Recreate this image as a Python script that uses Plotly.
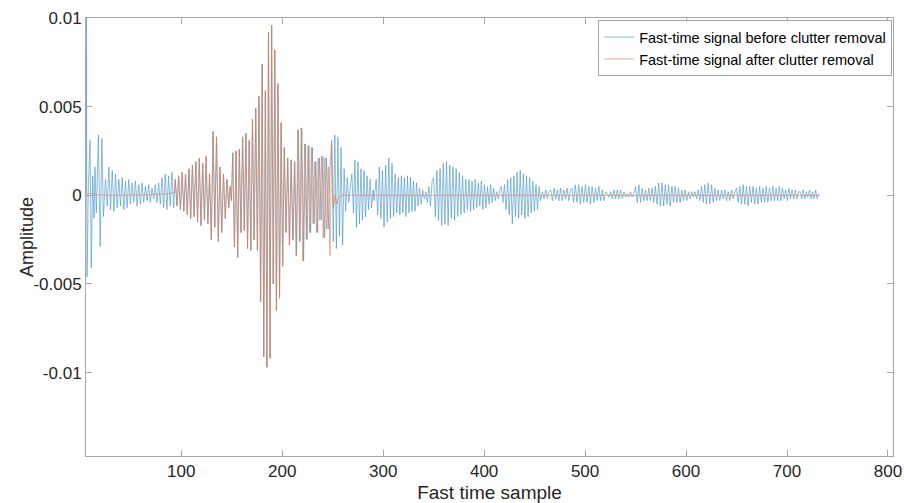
import numpy as np
import plotly.graph_objects as go

# ---------------- data ----------------
# Each oscillating stretch: (first sample, last sample) and its successive extrema
blue_start_x = [5.6, 5.9, 6.6, 8.0, 9.6, 10.8, 12.3, 13.5, 14.5, 15.8, 17.9, 19.6, 21.3, 22.8, 24.5]
blue_start_y = [0.0, 0.0102, -0.0046, 0.0005, 0.0031, -0.0041, 0.0011, -0.0013, 0.0016, -0.0010,
                0.0034, -0.0029, 0.0032, -0.0012, 0.0006]

blue_b2 = [0.0009, -0.0006, 0.0016, -0.0008, 0.0014, -0.0009, 0.0012, -0.0007, 0.0009, -0.0006,
           0.0010, -0.0008, 0.0008, -0.0007, 0.0009, -0.0005, 0.0007, -0.0004, 0.0008, -0.0006,
           0.0006, -0.0005, 0.0007, -0.0004, 0.0005, -0.0003, 0.0006, -0.0004, 0.0004, -0.0002,
           0.0006, -0.0004, 0.0007, -0.0005, 0.0010, -0.0007, 0.0012, -0.0008, 0.0011, -0.0006,
           0.0013, -0.0007]
orange_o1 = [0.0009, -0.0006, 0.0011, -0.0008, 0.0013, -0.0009, 0.0012, -0.0011, 0.0015, -0.0013,
             0.0017, -0.0012, 0.0019, -0.0015, 0.0021, -0.0017, 0.0018, -0.0014, 0.0022, -0.0016]
orange_o2 = [0.0012, -0.0025, 0.0036, -0.0018, 0.0033, -0.0026, 0.0016, -0.0021, 0.0012, -0.0013, 0.0009]
orange_o3 = [-0.0007, 0.0005, -0.0003]
orange_o4 = [0.0024, -0.0029, 0.0025, -0.0035, 0.0026, -0.0021, 0.0033, -0.0020, 0.0035, -0.0030,
             0.0031, -0.0031, 0.0043, -0.0025, 0.0049, -0.0031]
orange_o5 = [0.0056, -0.0060, 0.0074, -0.0091, 0.0059, -0.0097, 0.0092, -0.0092, 0.0096, -0.0050,
             0.0082, -0.0065, 0.0063, -0.0058, 0.0041, -0.0040]
orange_o6 = [0.0027, -0.0021, 0.0021, -0.0028, 0.0020, -0.0025, 0.0019, -0.0034, 0.0037, -0.0026,
             0.0038, -0.0037, 0.0029, -0.0025, 0.0028, -0.0021, 0.0027, -0.0016, 0.0019, -0.0021,
             0.0021, -0.0014, 0.0022, -0.0024, 0.0021, -0.0019, 0.0016, -0.0034, 0.0029, -0.0007, 0.0]
blue_b3 = [0.0031, -0.0026, 0.0034, -0.0030, 0.0033, -0.0023, 0.0027, -0.0028, 0.0015, -0.0009,
           0.0010, -0.0004, 0.0005]
blue_b4 = [0.0012, -0.0010, 0.0020, -0.0018, 0.0019, -0.0016, 0.0015, -0.0014, 0.0014, -0.0012,
           0.0011, -0.0008, 0.0009, -0.0007]
blue_b5 = [0.0003, -0.0003, 0.0002]
blue_b6 = [0.0009, -0.0011, 0.0016, -0.0013, 0.0014, -0.0018, 0.0017, -0.0015, 0.0021, -0.0013,
           0.0018, -0.0012, 0.0012, -0.0010]
blue_b7 = [0.0010, -0.0011, 0.0011, -0.0010, 0.0010, -0.0012, 0.0011, -0.0010, 0.0010, -0.0009,
           0.0008, -0.0009, 0.0007, -0.0006]
blue_b8 = [0.0004, -0.0005, 0.0003, -0.0002, 0.0002, -0.0004, 0.0005, -0.0006, 0.0008]
blue_b9 = [0.0010, -0.0012, 0.0014, -0.0014, 0.0015, -0.0017, 0.0018, -0.0016, 0.0019, -0.0017,
           0.0017, -0.0013, 0.0016, -0.0014, 0.0015, -0.0012, 0.0013, -0.0011, 0.0011, -0.0010,
           0.0009, -0.0008]
blue_b10 = [0.0009, -0.0009, 0.0008, -0.0008, 0.0009, -0.0007, 0.0007, -0.0006, 0.0008, -0.0008,
            0.0006, -0.0007, 0.0005, -0.0005, 0.0006, -0.0004, 0.0004]
blue_b11 = [-0.0003, 0.0002, -0.0002, 0.0003]
blue_b12 = [0.0005, -0.0004, 0.0006, -0.0008, 0.0009, -0.0011, 0.0010, -0.0016, 0.0011, -0.0012,
            0.0013, -0.0013, 0.0014, -0.0011, 0.0012, -0.0013, 0.0011, -0.0012, 0.0010, -0.0010,
            0.0008, -0.0009, 0.0006, -0.0008, 0.0005]
blue_b13 = [-0.0003, 0.0002, -0.0002, 0.0003, -0.0002, 0.0002]
blue_b14 = [0.0003, -0.0003, 0.0004, -0.0002, 0.0003, -0.0003, 0.0004, -0.0003, 0.0003, -0.0002,
            0.0004, -0.0003, 0.0003]
blue_b15 = [0.0004, -0.0004, 0.0006, -0.0004, 0.0006, -0.0005, 0.0005, -0.0004, 0.0006, -0.0004,
            0.0005, -0.0005, 0.0005, -0.0004, 0.0004, -0.0003, 0.0005, -0.0003, 0.0003, -0.0003, 0.0002]
blue_b16 = [0.0001, -0.0001, 0.0002, -0.0002, 0.0003, -0.0002, 0.0003, -0.0002, 0.0003, -0.0002,
            0.0002, -0.0001, 0.0001, -0.0001, 0.0002, -0.0001, 0.0001]
blue_b17 = [0.0005, -0.0004, 0.0006, -0.0004, 0.0004, -0.0003, 0.0003, -0.0003, 0.0004, -0.0003,
            0.0004, -0.0004, 0.0005, -0.0005, 0.0007, -0.0006, 0.0007, -0.0006, 0.0006, -0.0005,
            0.0006, -0.0006, 0.0005, -0.0004, 0.0005, -0.0004, 0.0004, -0.0004, 0.0003, -0.0003,
            0.0003, -0.0003, 0.0002]
blue_b18 = [-0.0002, 0.0002, -0.0001, 0.0002, -0.0002]
blue_b19 = [0.0003, -0.0003, 0.0005, -0.0004, 0.0006, -0.0005, 0.0007, -0.0005, 0.0006, -0.0004,
            0.0004, -0.0003, 0.0003, -0.0003, 0.0003, -0.0002, 0.0003, -0.0003, 0.0002, -0.0003,
            0.0003, -0.0002, 0.0002]
blue_b20 = [0.0004, -0.0004, 0.0005, -0.0005, 0.0006, -0.0005, 0.0005, -0.0006, 0.0005, -0.0004,
            0.0005, -0.0005, 0.0004, -0.0005, 0.0005, -0.0004, 0.0004, -0.0004, 0.0005, -0.0004,
            0.0004, -0.0003]
blue_b21 = [0.0005, -0.0003, 0.0004, -0.0003, 0.0005, -0.0003, 0.0004, -0.0002, 0.0003, -0.0003,
            0.0004, -0.0002, 0.0003, -0.0002, 0.0003, -0.0002, 0.0002]
blue_b22 = [0.0002, -0.0002, 0.0003, -0.0002, 0.0002, -0.0001, 0.0003, -0.0002, 0.0002, -0.0002,
            0.0003, -0.0002, 0.0001]

orange_lead_x = [5.6, 7.5, 10, 14, 30, 60, 85, 93]
orange_lead_y = [-0.0001, 0.0001, 0.00012, 0.00005, 0.0, 0.00002, 0.00008, 0.00015]
orange_tail_x = [254, 255.5, 258, 733]
orange_tail_y = [-0.0005, -0.0002, 0.0, 0.0]

# sample spans of the stretches
orange_spans = [(94, 128, orange_o1), (128, 147, orange_o2), (147, 151, orange_o3),
                (151, 177, orange_o4), (177, 202, orange_o5), (202, 254, orange_o6)]
blue_spans = [(25, 94, blue_b2)] + orange_spans[:-1] + [
    (202, 249, orange_o6[:27]), (249, 269, blue_b3), (269, 290, blue_b4), (290, 293, blue_b5),
    (293, 315, blue_b6), (315, 336, blue_b7), (336, 350, blue_b8), (350, 385, blue_b9),
    (385, 411, blue_b10), (411, 417, blue_b11), (417, 456, blue_b12), (456, 466, blue_b13),
    (466, 487, blue_b14), (487, 522, blue_b15), (522, 550, blue_b16), (550, 604, blue_b17),
    (604, 612, blue_b18), (612, 650, blue_b19), (650, 686, blue_b20), (686, 713, blue_b21),
    (713, 733, blue_b22)]

x_ticks = [100, 200, 300, 400, 500, 600, 700, 800]
y_ticks = [-0.01, -0.005, 0, 0.005, 0.01]
y_tick_text = ["-0.01", "-0.005", "0", "0.005", "0.01"]


def build(spans):
    xs, ys = [], []
    for a, b, vals in spans:
        xs.extend(np.linspace(a, b, len(vals), endpoint=False).tolist())
        ys.extend(vals)
    return xs, ys


bx, by = build(blue_spans)
bx = blue_start_x + bx
by = blue_start_y + by

ox, oy = build(orange_spans)
ox = orange_lead_x + ox + orange_tail_x
oy = orange_lead_y + oy + orange_tail_y

# ---------------- figure ----------------
FONT = "Liberation Sans, Arial"
fig = go.Figure()
fig.add_trace(go.Scatter(x=bx, y=by, mode="lines", name="Fast-time signal before clutter removal",
                         line=dict(color="#3d8fc9", width=0.6)))
fig.add_trace(go.Scatter(x=ox, y=oy, mode="lines", name="Fast-time signal after clutter removal",
                         line=dict(color="#e07a4c", width=0.6)))

axis_common = dict(showgrid=False, zeroline=False, showline=True, linecolor="#a8a8a8", linewidth=1,
                   mirror="ticks", ticks="inside", ticklen=6, tickcolor="#a8a8a8",
                   tickfont=dict(family=FONT, size=17, color="#262626"))

fig.update_xaxes(range=[5.6, 805], tickvals=x_ticks,
                 title=dict(text="Fast time sample", standoff=10,
                            font=dict(family=FONT, size=19, color="#262626")),
                 automargin=False, **axis_common)
fig.update_yaxes(range=[-0.0147, 0.01], tickvals=y_ticks, ticktext=y_tick_text,
                 automargin=False, **axis_common)

fig.add_annotation(text="Amplitude", xref="paper", yref="paper", x=-0.0731, y=0.5,
                   xanchor="center", yanchor="middle", textangle=-90, showarrow=False,
                   font=dict(family=FONT, size=18, color="#262626"))

fig.update_layout(
    width=904, height=503,
    margin=dict(l=86, r=11, t=18, b=47),
    plot_bgcolor="white", paper_bgcolor="white",
    showlegend=True,
    legend=dict(x=0.999, y=0.995, xanchor="right", yanchor="top",
                bgcolor="white", bordercolor="#a6a6a6", borderwidth=1,
                font=dict(family=FONT, size=14.5, color="#000000"),
                tracegroupgap=0, itemwidth=30),
)

fig.write_html("out.html")
